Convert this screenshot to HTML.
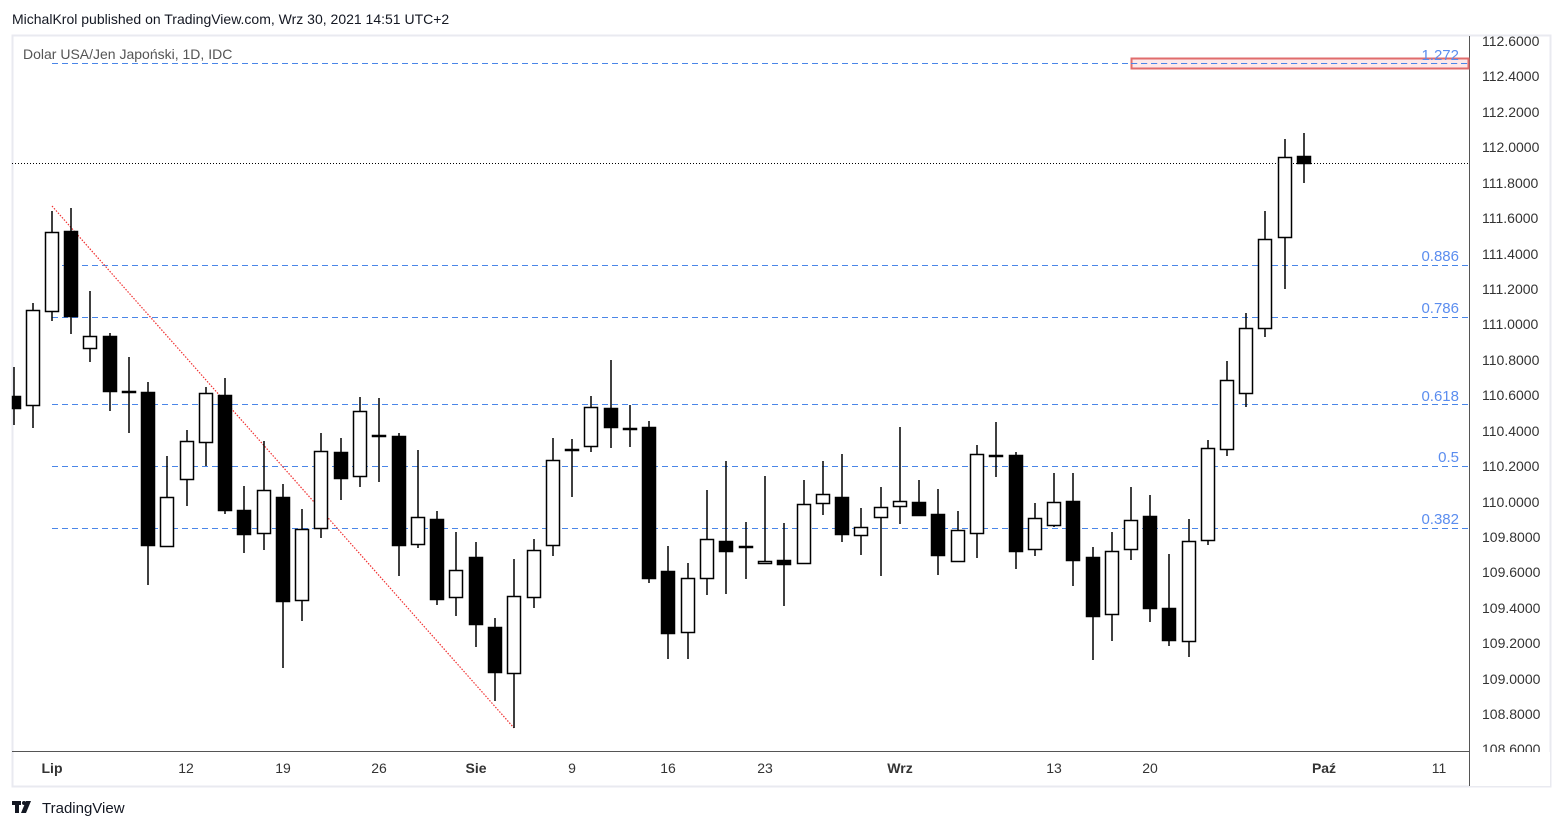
<!DOCTYPE html>
<html><head><meta charset="utf-8">
<style>
html,body{margin:0;padding:0;background:#fff;width:1562px;height:830px;overflow:hidden;font-family:"Liberation Sans",sans-serif;}
svg{position:absolute;left:0;top:0}
</style></head><body>
<svg id="s" width="1562" height="830" xmlns="http://www.w3.org/2000/svg" font-family="Liberation Sans, sans-serif">
<text x="12" y="24" font-size="14" fill="#131722">MichalKrol published on TradingView.com, Wrz 30, 2021 14:51 UTC+2</text>
<rect x="12.5" y="35.5" width="1538" height="751" fill="#fff" stroke="#e9eaf0" stroke-width="2"/>
<line x1="1469.5" y1="36" x2="1469.5" y2="786" stroke="#555" stroke-width="1"/>
<line x1="12" y1="751.5" x2="1469" y2="751.5" stroke="#555" stroke-width="1"/>
<text x="23" y="59" font-size="14" fill="#555">Dolar USA/Jen Japoński, 1D, IDC</text>
<g id="fib" stroke="#4a86e8" stroke-width="1" stroke-dasharray="6,4">
<line x1="52" y1="63.5" x2="1469" y2="63.5"/>
<line x1="52" y1="265.5" x2="1469" y2="265.5"/>
<line x1="52" y1="317.5" x2="1469" y2="317.5"/>
<line x1="52" y1="404.5" x2="1469" y2="404.5"/>
<line x1="52" y1="466.5" x2="1469" y2="466.5"/>
<line x1="52" y1="528.5" x2="1469" y2="528.5"/>
</g>
<rect x="1131.5" y="58.5" width="337" height="10" fill="#fbe3e3" fill-opacity="0.8" stroke="#e06c6c" stroke-width="2"/>
<line x1="1131" y1="63.5" x2="1469" y2="63.5" stroke="#4a86e8" stroke-width="1" stroke-dasharray="6,4"/>
<g font-size="15" fill="#5b8def" text-anchor="end">
<text x="1459" y="60">1.272</text>
<text x="1459" y="261">0.886</text>
<text x="1459" y="313">0.786</text>
<text x="1459" y="401">0.618</text>
<text x="1459" y="462">0.5</text>
<text x="1459" y="524">0.382</text>
</g>
<line x1="12" y1="163.5" x2="1469" y2="163.5" stroke="#000" stroke-width="1" stroke-dasharray="1,2"/>
<line x1="52" y1="206" x2="514" y2="728" stroke="#f03030" stroke-width="1.2" stroke-dasharray="1.5,1.5"/>
<g id="c"></g>
<g font-size="14" fill="#333">
<text x="1482" y="46">112.6000</text><text x="1482" y="81">112.4000</text><text x="1482" y="117">112.2000</text>
<text x="1482" y="152">112.0000</text><text x="1482" y="188">111.8000</text><text x="1482" y="223">111.6000</text>
<text x="1482" y="259">111.4000</text><text x="1482" y="294">111.2000</text><text x="1482" y="329">111.0000</text>
<text x="1482" y="365">110.8000</text><text x="1482" y="400">110.6000</text><text x="1482" y="436">110.4000</text>
<text x="1482" y="471">110.2000</text><text x="1482" y="507">110.0000</text><text x="1482" y="542">109.8000</text>
<text x="1482" y="577">109.6000</text><text x="1482" y="613">109.4000</text><text x="1482" y="648">109.2000</text>
<text x="1482" y="684">109.0000</text><text x="1482" y="719">108.8000</text><text x="1482" y="754">108.6000</text>
</g>
<rect x="1470" y="752" width="80" height="34" fill="#fff"/>
<g font-size="14" fill="#333" text-anchor="middle">
<text x="52" y="773" font-weight="bold">Lip</text><text x="186" y="773">12</text><text x="283" y="773">19</text>
<text x="379" y="773">26</text><text x="476" y="773" font-weight="bold">Sie</text><text x="572" y="773">9</text>
<text x="668" y="773">16</text><text x="765" y="773">23</text><text x="900" y="773" font-weight="bold">Wrz</text>
<text x="1054" y="773">13</text><text x="1150" y="773">20</text><text x="1324" y="773" font-weight="bold">Paź</text>
<text x="1439" y="773">11</text>
</g>
<g fill="#131722"><rect x="12" y="801" width="9" height="4"/><rect x="15" y="801" width="4" height="12"/><circle cx="24" cy="803" r="2"/><polygon points="26,801 31,801 26,813 21,813"/></g>
<text x="42" y="813" font-size="15" fill="#131722">TradingView</text>
</svg>
<script>
var d=[[14,367,425,396,409,1],[33,303,428,310,406,0],[52,211,321,232,312,0],[71,208,334,231,317,1],[90,291,362,336,349,0],[110,333,411,336,392,1],[129,357,433,391,393,1],[148,382,585,392,546,1],[167,456,547,497,547,0],[187,430,506,441,480,0],[206,387,466,393,443,0],[225,378,514,395,511,1],[244,486,553,510,535,1],[264,441,550,490,534,0],[283,484,668,497,602,1],[302,509,621,529,601,0],[321,433,538,451,529,0],[341,438,500,452,479,1],[360,397,487,411,477,0],[379,398,482,435,437,1],[399,433,576,436,546,1],[418,450,548,517,545,0],[437,511,605,519,600,1],[456,532,616,570,598,0],[476,542,647,557,625,1],[495,618,701,627,673,1],[514,559,728,596,674,0],[534,539,608,550,598,0],[553,438,556,460,546,0],[572,439,497,449,451,0],[591,396,452,407,447,0],[611,360,448,408,428,1],[630,405,447,428,430,1],[649,421,583,427,579,1],[668,546,659,571,634,1],[688,563,659,578,633,0],[707,490,595,539,579,0],[726,461,594,541,552,1],[746,522,579,546,548,1],[765,476,564,561,564,0],[784,523,606,560,565,1],[804,480,564,504,564,0],[823,461,515,494,504,0],[842,454,542,497,535,1],[861,508,555,527,536,0],[881,487,576,507,518,0],[900,427,524,501,507,0],[919,480,516,502,516,1],[938,489,575,514,556,1],[958,511,562,530,562,0],[977,445,558,454,534,0],[996,422,477,455,457,1],[1016,452,569,455,552,1],[1035,503,556,518,550,0],[1054,473,527,502,526,0],[1073,473,586,501,561,1],[1093,547,660,557,617,1],[1112,532,641,551,615,0],[1131,487,560,520,550,0],[1150,495,622,516,609,1],[1169,554,646,608,641,1],[1189,519,657,541,642,0],[1208,440,545,448,541,0],[1227,361,456,380,450,0],[1246,313,407,328,394,0],[1265,211,337,239,329,0],[1285,139,289,157,238,0],[1304,133,183,156,164,1]];
var g=document.getElementById('c'),h='';
d.forEach(function(c){var x=c[0];
h+='<line x1="'+x+'" y1="'+c[1]+'" x2="'+x+'" y2="'+c[2]+'" stroke="#000" stroke-width="1.5"/>';
var l=Math.max(x-7,12),w=x+7-l;
h+='<rect x="'+(l+0.5)+'" y="'+(c[3]+0.5)+'" width="'+(w-1)+'" height="'+Math.max(c[4]-c[3]-1,1)+'" fill="'+(c[5]?'#000':'#fff')+'" stroke="#000" stroke-width="1.5"/>';});
g.innerHTML=h;
</script>
</body></html>
